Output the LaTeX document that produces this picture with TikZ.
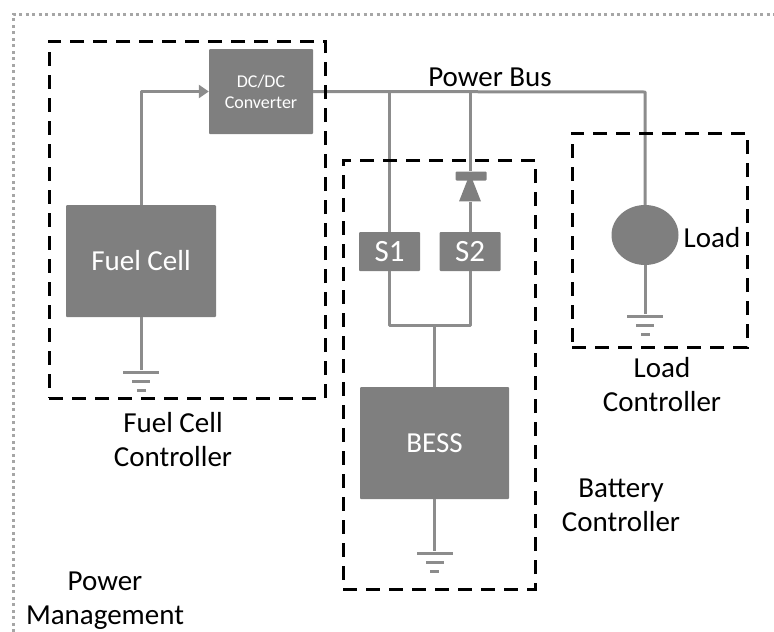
\documentclass[tikz,border=0pt]{standalone}
\usepackage{fontspec}
\setmainfont{Carlito}
\usepackage{tikz}
\usetikzlibrary{positioning,shapes.geometric,arrows.meta}
\definecolor{boxgray}{HTML}{7F7F7F}
\definecolor{linegray}{HTML}{8C8C8C}
\definecolor{dotgray}{HTML}{A6A6A6}
\tikzstyle{unit}=[fill=boxgray,draw=none,rounded corners=1pt,inner sep=0pt,text=white,align=center]
\tikzstyle{zone}=[draw=black,line width=3pt,dash pattern=on 14pt off 9pt,inner sep=0pt]
\tikzstyle{label}=[inner sep=0pt,align=center,text=black,font=\fontsize{29}{34}\selectfont]
\tikzstyle{wire}=[draw=linegray,line width=3pt,line join=round]
\tikzstyle{gndbar}=[fill=linegray,inner sep=0pt,minimum height=3pt]
\newcommand{\gndsym}[3]{
\node (#1a) [gndbar,minimum width=36pt] at (#2,#3) {};
\node (#1b) [gndbar,minimum width=18pt,below=6pt of #1a] {};
\node (#1c) [gndbar,minimum width=9pt,below=6pt of #1b] {};
}
\begin{document}
\begin{tikzpicture}[x=1pt,y=-1pt]
\useasboundingbox (0,0) rectangle (774,632);
\coordinate (frameA) at (13,632);
\coordinate (frameB) at (13,14);
\coordinate (frameC) at (774,14);
\draw [dotgray,line width=3pt,dash pattern=on 3pt off 3.5pt] (frameA) -- (frameB) -- (frameC);

\node (conv) [unit,minimum width=104pt,minimum height=85pt,font=\fontsize{18}{21}\selectfont] at (261,91.5) {DC/DC\\Converter};
\node (fuel) [unit,minimum width=150pt,minimum height=112pt,font=\fontsize{29}{30}\selectfont] at (141,261) {Fuel Cell};
\node (sone) [unit,minimum width=61pt,minimum height=39pt,font=\fontsize{31}{30}\selectfont] at (389.5,251.5) {S1};
\node (stwo) [unit,minimum width=61pt,minimum height=39pt,font=\fontsize{31}{30}\selectfont] at (470,251.5) {S2};
\node (bess) [unit,minimum width=149pt,minimum height=112pt,font=\fontsize{29}{30}\selectfont] at (434.5,443) {BESS};
\node (load) [ellipse,fill=boxgray,inner sep=0pt,minimum width=67pt,minimum height=60pt] at (645,235) {};
\node (diode) [isosceles triangle,shape border rotate=90,isosceles triangle stretches,fill=boxgray,inner sep=0pt,minimum width=22pt,minimum height=28pt] at (470,194) {};
\node (bar) [unit,minimum width=31pt,minimum height=9pt] at (471,176) {};

\coordinate (fuelup) at (141,92);
\coordinate (buscorner) at (645,92);
\coordinate (sonetop) at (389.5,92);
\coordinate (stwotop) at (470,92);
\coordinate (join) at (434.5,325);

\gndsym{fcg}{141}{372}
\gndsym{bsg}{434.5}{553}
\gndsym{ldg}{645}{316}

\draw [wire,-{Triangle[length=10pt,width=13pt]}] (fuel.north) |- (conv.west);
\draw [wire] (conv.east) -- (buscorner) -- (load.north);
\draw [wire] (sonetop) -- (sone.north);
\draw [wire] (stwotop) -- (bar.north -| stwotop);
\draw [wire] (diode.south -| stwotop) -- (stwo.north);
\draw [wire] (sone.south) |- (join) -| (stwo.south);
\draw [wire] (join) -- (bess.north);
\draw [wire] (fuel.south) -- (fcga.north);
\draw [wire] (bess.south) -- (bsga.north);
\draw [wire] (load.south) -- (ldga.north);

\node (fczone) [zone,minimum width=276pt,minimum height=357pt] at (187,219.5) {};
\node (btzone) [zone,minimum width=192pt,minimum height=429pt] at (439,374.5) {};
\node (ldzone) [zone,minimum width=175pt,minimum height=214pt] at (659.5,240) {};

\node (bus) [label] at (490,77) {Power Bus};
\node (loadtxt) [label] at (712,238) {Load};
\node (ldctl) [label] at (662,385) {Load\\Controller};
\node (fcctl) [label] at (173,440) {Fuel Cell\\Controller};
\node (btctl) [label] at (621,505) {Battery\\Controller};
\node (pwr) [label] at (105,601) {Power\\Management};
\end{tikzpicture}
\end{document}
